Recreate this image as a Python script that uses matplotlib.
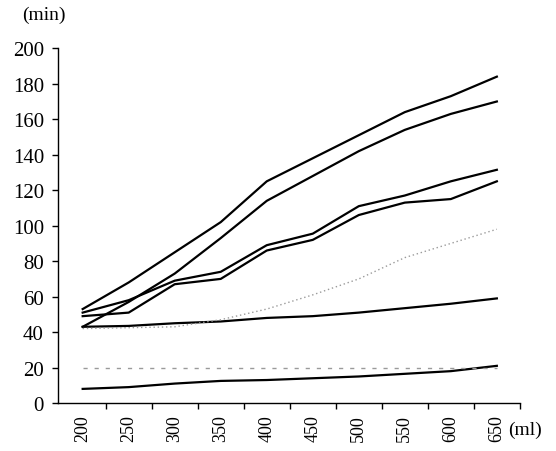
import matplotlib
matplotlib.use("Agg")
import matplotlib.pyplot as plt
import numpy as np
from matplotlib.ticker import FixedLocator

# volumes (ml) and times (min)
volume = [200, 250, 300, 350, 400, 450, 500, 550, 600, 650]

line1 = [53, 68, 85, 102, 125, 138, 151, 164, 173, 184]
line2 = [43, 57, 73, 93, 114, 128, 142, 154, 163, 170]
line3 = [51, 58, 69, 74, 89, 95.5, 111, 117, 125, 131.5]
line4 = [49, 51, 67, 70, 86, 92, 106, 113, 115, 125]
line_grey = [42, 42.5, 43, 47, 53, 61, 70, 82, 90, 98]
line6 = [43, 43.5, 45, 46, 48, 49, 51, 53.5, 56, 59]
line_dash = [20, 20, 20, 20, 20, 20, 20, 20, 20, 20]
line8 = [8, 9, 11, 12.5, 13, 14, 15, 16.5, 18, 21]

plt.rcParams['font.family'] = ['Liberation Serif', 'DejaVu Serif']

fig = plt.figure(figsize=(5.56, 4.52), dpi=100)
ax = fig.add_axes([0.104, 0.106, 0.831, 0.785])

for ys in [line1, line2, line3, line4, line6, line8]:
    ax.plot(volume, ys, color='k', lw=1.6)
ax.plot(volume, line_grey, color='#9a9a9a', lw=1.0, linestyle=(0, (1, 2)))
ax.plot(volume, line_dash, color='#9a9a9a', lw=1.0, linestyle=(0, (3, 5)))

ax.set_xlim(173, 675)
ax.set_ylim(0, 200)

ax.set_yticks(np.arange(0, 201, 20))
ax.set_xticks(volume)
ax.set_xticklabels([str(v) for v in volume], rotation=90)
ax.xaxis.set_minor_locator(FixedLocator(np.arange(225, 676, 50)))
ax.tick_params(axis='x', which='major', length=0, pad=8, labelsize=13)
ax.tick_params(axis='x', which='minor', length=4, direction='out', width=1)
ax.tick_params(axis='y', length=4, direction='out', width=1, labelsize=15, pad=6)

for s in ['top', 'right']:
    ax.spines[s].set_visible(False)
ax.spines['left'].set_linewidth(1.0)
ax.spines['bottom'].set_linewidth(1.0)

fig.text(0.04, 0.965, "(min)", fontsize=14, ha='left', va='center')
fig.text(0.913, 0.047, "(ml)", fontsize=14, ha='left', va='center')

plt.savefig("out.png", dpi=100)
